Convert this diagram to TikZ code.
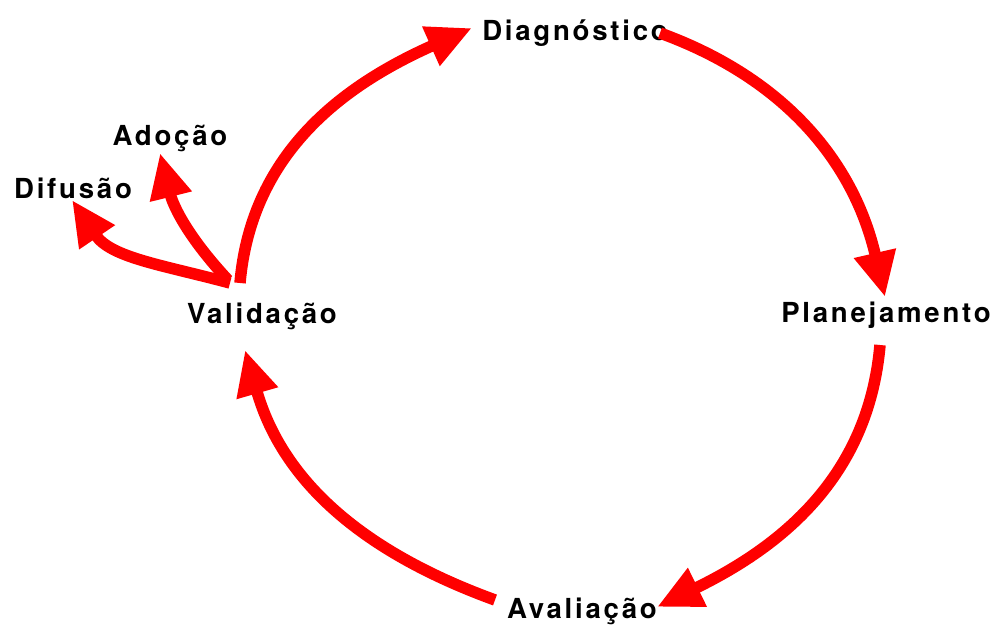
\documentclass[tikz,border=0pt]{standalone}
\usepackage{fontspec}
\usetikzlibrary{arrows.meta}
\newfontfamily\stagefont[LetterSpace=10]{TeX Gyre Heros}
\begin{document}
\begin{tikzpicture}[x=.2mm, y=.2mm,
  stage/.style={font=\stagefont\bfseries\fontsize{15.7}{18}\selectfont, inner sep=0pt, anchor=base},
  flow/.style={draw=red, line width=.23cm, -{Triangle[length=.9cm, width=.8cm]}}]
\useasboundingbox (0,0) rectangle (995,625);
\node[stage] (diag) at (575,585) {Diagnóstico};
\node[stage] (plan) at (886,303) {Planejamento};
\node[stage] (aval) at (582,7) {Avaliação};
\node[stage] (val) at (262,302) {Validação};
\node[stage] (adoc) at (170,480) {Adoção};
\node[stage] (difu) at (73,427) {Difusão};
\draw[flow] ([shift={(-22,40)}]val.base) to[out=85, in=204] ([shift={(-103,12)}]diag.base);
\draw[flow] ([shift={(85,7)}]diag.base) to[out=-20, in=103] ([shift={(-1,25)}]plan.base);
\draw[flow] ([shift={(-6,-23)}]plan.base) to[out=-95, in=26] ([shift={(75,11)}]aval.base);
\draw[flow] ([shift={(-87,18)}]aval.base) to[out=160, in=-74] ([shift={(-17,-27)}]val.base);
\draw[flow] ([shift={(-34,43)}]val.base) to[out=133, in=-76] ([shift={(-10,-8)}]adoc.base);
\draw[flow] ([shift={(-32,40)}]val.base) to[out=165, in=-56] ([shift={(-1,-2)}]difu.base);
\end{tikzpicture}
\end{document}
